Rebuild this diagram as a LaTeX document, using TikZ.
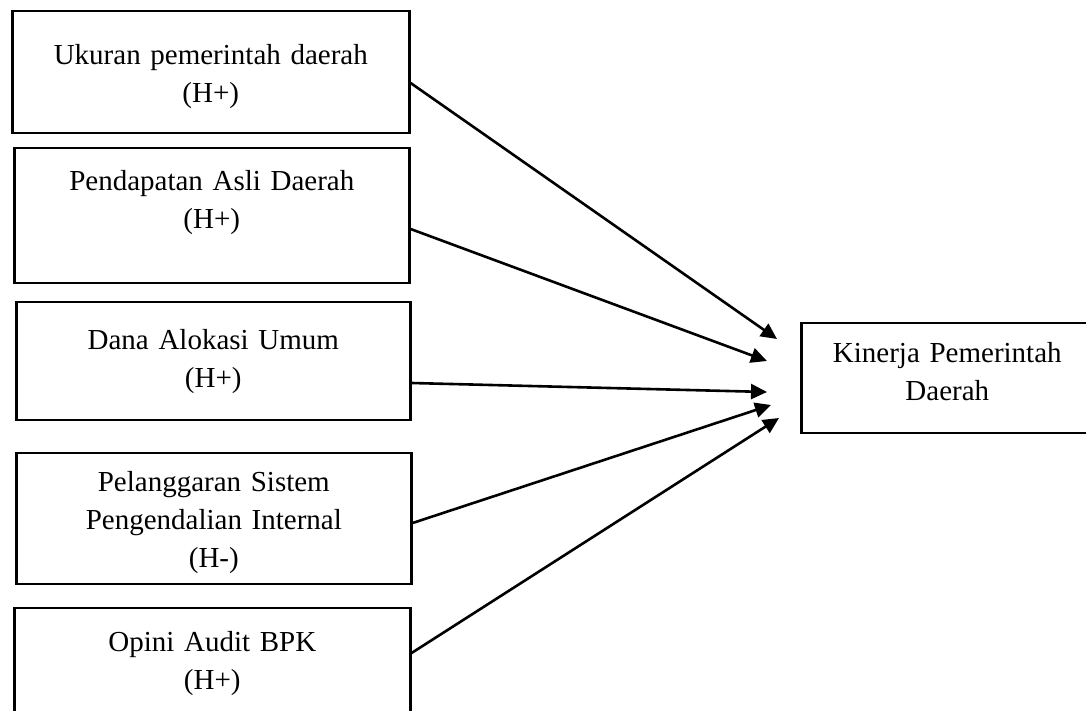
\documentclass[tikz,border=0pt]{standalone}
\usepackage{fontspec}
\setmainfont[WordSpace = 0.75]{Liberation Serif}
\usetikzlibrary{arrows.meta}

\begin{document}
\begin{tikzpicture}[
    x = 0.5pt,
    y = -0.5pt,
    varbox/.style = {
        draw,
        rectangle,
        line width = 1.3pt,
        inner sep = 0pt,
        align = center,
        anchor = base west,
        font = \fontsize{14.5pt}{19pt}\selectfont
    },
    arrow/.style = {-{Triangle[length = 8pt, width = 7.5pt]}, line width = 1.3pt}
]

\useasboundingbox (0, 0) rectangle (1086, 711);

% Independent variables
\node[varbox, text width = 198.5pt, text height = 27pt, text depth = 34pt]
    (ukuran) at (11, 65) {Ukuran pemerintah daerah \\ (H+)};

\node[varbox, text width = 197.5pt, text height = 21.25pt, text depth = 46.25pt]
    (pad) at (13, 190.5) {Pendapatan Asli Daerah \\ (H+)};

\node[varbox, text width = 197pt, text height = 23.5pt, text depth = 35.5pt]
    (dau) at (15, 349) {Dana Alokasi Umum \\ (H+)};

\node[varbox, text width = 197.5pt, text height = 19pt, text depth = 46.5pt]
    (spi) at (15, 491) {Pelanggaran Sistem \\ Pengendalian Internal \\ (H-)};

\node[varbox, text width = 198pt, text height = 21.5pt, text depth = 44.5pt]
    (opini) at (13, 651) {Opini Audit BPK \\ (H+)};

% Dependent variable
\node[varbox, text width = 146pt, text height = 19.85pt, text depth = 35.15pt]
    (kinerja) at (800, 362.7) {Kinerja Pemerintah \\ Daerah};

% Arrow tips in front of the dependent variable
\coordinate (tip1) at (777, 339);
\coordinate (tip2) at (767, 361);
\coordinate (tip3) at (767, 392);
\coordinate (tip4) at (771, 405);
\coordinate (tip5) at (779, 418);

% Hypothesis arrows
\draw[arrow] ([yshift = -9pt]ukuran.base east) -- (tip1);
\draw[arrow] ([yshift = -19.25pt]pad.base east) -- (tip2);
\draw[arrow] ([yshift = -17pt]dau.base east) -- (tip3);
\draw[arrow] ([yshift = -16pt]spi.base east) -- (tip4);
\draw[arrow] ([yshift = -1pt]opini.base east) -- (tip5);

\end{tikzpicture}
\end{document}
